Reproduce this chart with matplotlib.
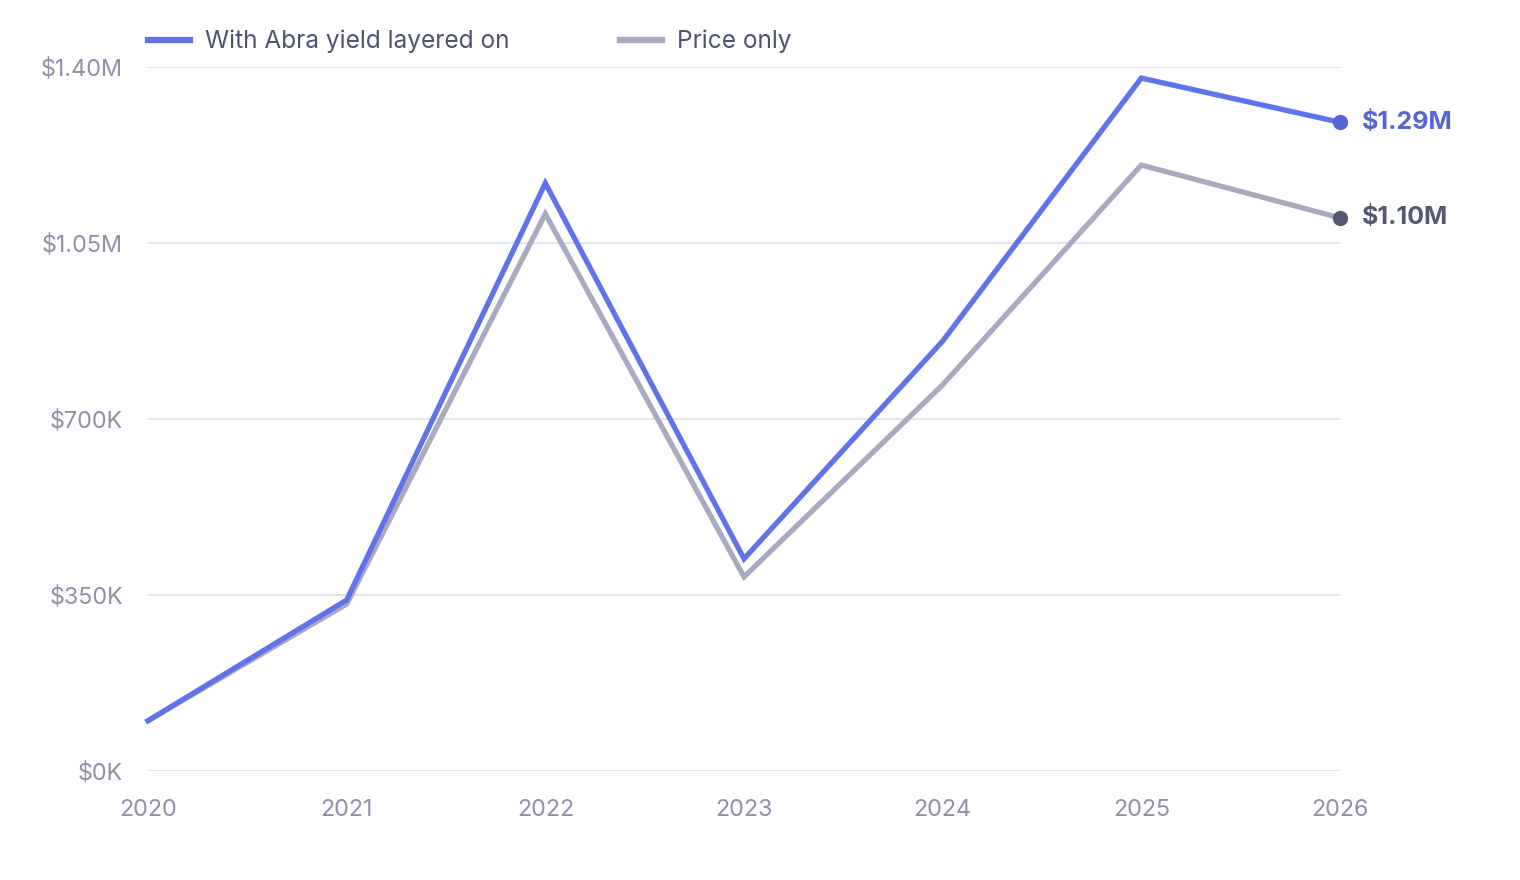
import matplotlib
matplotlib.use("Agg")
import matplotlib.pyplot as plt
from matplotlib.lines import Line2D

years = [2020, 2021, 2022, 2023, 2024, 2025, 2026]
with_abra = [100000, 340000, 1169000, 422000, 855000, 1378000, 1290000]
price_only = [100000, 332000, 1108000, 386000, 768000, 1205000, 1100000]
y_ticks = [0, 350000, 700000, 1050000, 1400000]
y_tick_labels = ["$0K", "$350K", "$700K", "$1.05M", "$1.40M"]
series_names = ["With Abra yield layered on", "Price only"]
end_labels = ["$1.29M", "$1.10M"]

plt.rcParams['font.family'] = ['Inter', 'DejaVu Sans']

BLUE = "#5f73ea"
GRAY = "#a9aabf"
BLUE_DOT = "#5565d2"
GRAY_DOT = "#555872"
TICK = "#8e90a6"
TEXT = "#4f5270"
GRID = "#e3e6ee"

fig = plt.figure(figsize=(15.2, 8.8), dpi=100)
ax = fig.add_axes([148/1520, 1-771/880, (1340-148)/1520, (771-67)/880])

ax.set_xlim(2020, 2026)
ax.set_ylim(0, 1400000)
ax.set_yticks(y_ticks)
ax.set_yticklabels(y_tick_labels)
ax.set_xticks(years)
ax.set_xticklabels([str(y) for y in years])
ax.grid(axis='y', color=GRID, linewidth=1.4)
ax.set_axisbelow(True)
for s in ax.spines.values():
    s.set_visible(False)
ax.tick_params(length=0, colors=TICK, labelsize=16.8)
ax.tick_params(axis='y', pad=18)
ax.tick_params(axis='x', pad=20)

ax.plot(years, price_only, color=GRAY, linewidth=3.8, clip_on=False, solid_joinstyle='miter', zorder=3)
ax.plot(years, with_abra, color=BLUE, linewidth=3.8, clip_on=False, solid_joinstyle='miter', zorder=4)
ax.plot([years[-1]], [with_abra[-1]], 'o', color=BLUE_DOT, markersize=10, clip_on=False, zorder=5)
ax.plot([years[-1]], [price_only[-1]], 'o', color=GRAY_DOT, markersize=10, clip_on=False, zorder=5)
ax.annotate(end_labels[0], (years[-1], with_abra[-1]), xytext=(16, 0), textcoords='offset points',
            va='center', ha='left', fontsize=18, fontweight='bold', color=BLUE_DOT)
ax.annotate(end_labels[1], (years[-1], price_only[-1]), xytext=(16, 0), textcoords='offset points',
            va='center', ha='left', fontsize=18, fontweight='bold', color=GRAY_DOT)

# legend
fig.add_artist(Line2D([148/1520, 190/1520], [1-40/880, 1-40/880], color=BLUE, linewidth=4.5))
fig.text(205/1520, 1-41/880, series_names[0], fontsize=17.6, color=TEXT, va='center', ha='left')
fig.add_artist(Line2D([620/1520, 662/1520], [1-40/880, 1-40/880], color=GRAY, linewidth=4.5))
fig.text(677/1520, 1-41/880, series_names[1], fontsize=17.6, color=TEXT, va='center', ha='left')

fig.savefig("out.png", dpi=100, facecolor="white")
